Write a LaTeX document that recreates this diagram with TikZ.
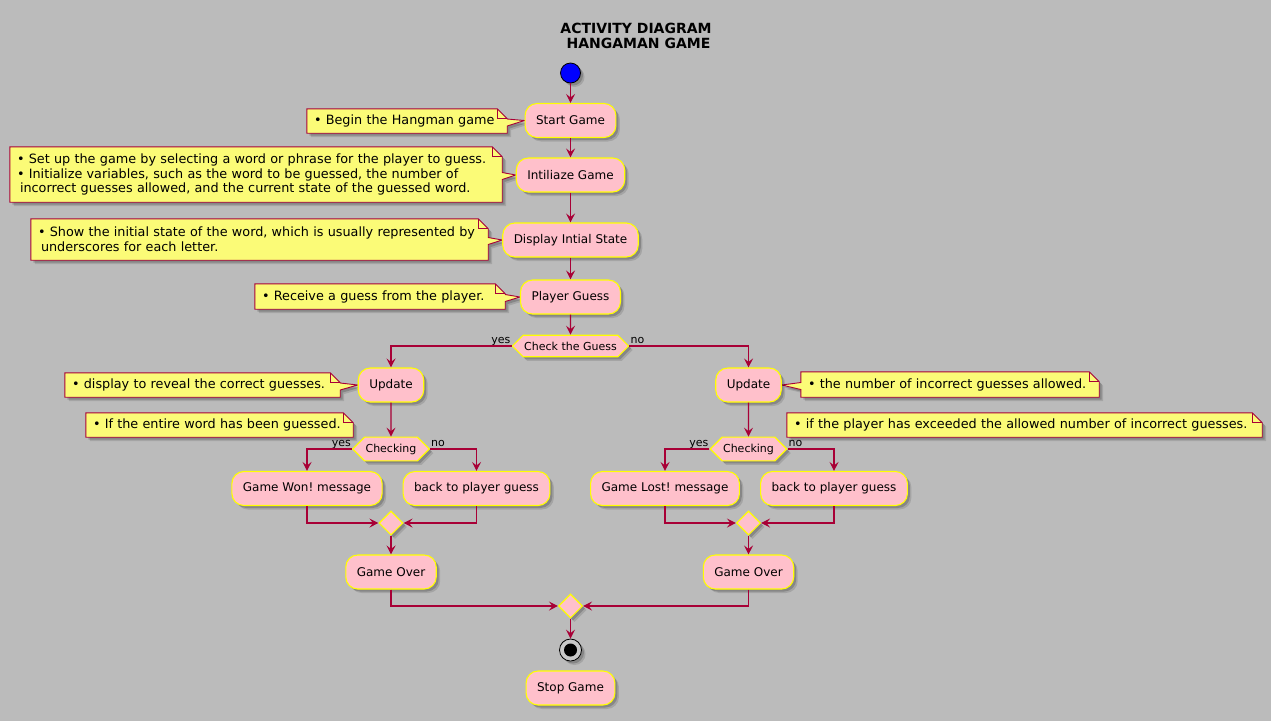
\documentclass[tikz,border=0pt]{standalone}
\usepackage{fontspec}
\setmainfont{DejaVu Sans}
\usetikzlibrary{arrows.meta,shapes.geometric,shapes.symbols,shadows,calc}
\pgfdeclarelayer{canvas}
\pgfdeclarelayer{notes}
\pgfsetlayers{canvas,notes,main}
\frenchspacing

\definecolor{bgc}{RGB}{187,187,187}
\definecolor{actfill}{RGB}{255,192,203}
\definecolor{actline}{RGB}{255,255,0}
\definecolor{arrowc}{RGB}{168,0,54}
\definecolor{notefill}{RGB}{251,251,119}
\definecolor{noteline}{RGB}{168,0,54}

\tikzset{
  softshadow/.style={
    drop shadow={shadow xshift=4pt, shadow yshift=-4pt, fill=black, opacity=0.12},
    drop shadow={shadow xshift=2.5pt, shadow yshift=-2.5pt, fill=black, opacity=0.18}},
  act/.style={rectangle, rounded corners=12pt, draw=actline, fill=actfill, line width=1.1pt,
    minimum height=34pt, inner xsep=11pt, font=\fontsize{12}{14}\selectfont, softshadow},
  choice/.style={signal, signal to=west and east, signal pointer angle=90, draw=actline,
    fill=actfill, line width=1.1pt, inner xsep=1pt, inner ysep=6.5pt,
    font=\fontsize{11}{13}\selectfont, softshadow},
  merge/.style={diamond, aspect=1, draw=actline, fill=actfill, line width=1.1pt,
    minimum width=24pt, minimum height=24pt, inner sep=0pt, softshadow},
  startdot/.style={circle, fill=blue, draw=black, line width=0.8pt, minimum size=20pt,
    inner sep=0pt, softshadow},
  enddot/.style={circle, fill=bgc!80!white, draw=black, line width=0.8pt, minimum size=22pt,
    inner sep=0pt, softshadow,
    path picture={\fill[black] (path picture bounding box.center) circle (6.5pt);}},
  flow/.style={draw=arrowc, line width=1.2pt, -{Stealth[length=9pt,width=9pt,inset=3.5pt]}},
  note/.style={rectangle, inner xsep=7pt, inner ysep=3pt, align=left,
    font=\fontsize{12.8}{14.6}\selectfont},
  notebox/.style={fill=notefill, draw=noteline, line width=0.9pt, softshadow},
  notefold/.style={draw=noteline, line width=0.9pt},
  lbl/.style={inner sep=1pt, font=\fontsize{11}{13}\selectfont},
  heading/.style={align=center, inner sep=0pt, font=\bfseries\fontsize{14}{15.5}\selectfont},
}

% note outline with its pointer on the right edge
\newcommand\hgNoteRight[2]{%
  \begin{pgfonlayer}{notes}
    \path[notebox] (#1.north west) -- ([xshift=-10pt]#1.north east) -- ([yshift=-10pt]#1.north east)
      -- ([yshift=2pt]#1.east) -- (#2) -- ([yshift=-5pt]#1.east)
      -- (#1.south east) -- (#1.south west) -- cycle;
    \path[notefold] ([xshift=-10pt]#1.north east) -- ([xshift=-10pt,yshift=-10pt]#1.north east)
      -- ([yshift=-10pt]#1.north east);
  \end{pgfonlayer}}
% note outline with its pointer on the left edge
\newcommand\hgNoteLeft[2]{%
  \begin{pgfonlayer}{notes}
    \path[notebox] (#1.north west) -- ([xshift=-10pt]#1.north east) -- ([yshift=-10pt]#1.north east)
      -- (#1.south east) -- (#1.south west) -- ([yshift=-5pt]#1.west) -- (#2)
      -- ([yshift=2pt]#1.west) -- cycle;
    \path[notefold] ([xshift=-10pt]#1.north east) -- ([xshift=-10pt,yshift=-10pt]#1.north east)
      -- ([yshift=-10pt]#1.north east);
  \end{pgfonlayer}}
% free-standing note outline
\newcommand\hgNotePlain[1]{%
  \begin{pgfonlayer}{notes}
    \path[notebox] (#1.north west) -- ([xshift=-10pt]#1.north east) -- ([yshift=-10pt]#1.north east)
      -- (#1.south east) -- (#1.south west) -- cycle;
    \path[notefold] ([xshift=-10pt]#1.north east) -- ([xshift=-10pt,yshift=-10pt]#1.north east)
      -- ([yshift=-10pt]#1.north east);
  \end{pgfonlayer}}

\begin{document}
\begin{tikzpicture}[x=1pt,y=-1pt]
\useasboundingbox (0,0) rectangle (1271,721);
\begin{pgfonlayer}{canvas}
  \fill[bgc] (0,0) rectangle (1271,721);
\end{pgfonlayer}

\node[heading] (ttl) at (636,36) {ACTIVITY DIAGRAM\\\hspace*{5pt}HANGAMAN GAME};

% main column
\node[startdot] (start) at (570.5,73) {};
\node[act] (a1) at (570.5,120.5) {Start Game};
\node[act] (a2) at (570.5,175) {Intiliaze Game};
\node[act] (a3) at (570.5,240) {Display Intial State};
\node[act] (a4) at (570.5,297) {Player Guess};
\node[choice] (h1) at (570.5,346) {Check the Guess};

% guess correct
\node[act] (u1) at (391,385) {Update};
\node[choice] (c1) at (391,449) {Checking};
\node[act] (w1) at (307,488.5) {Game Won! message};
\node[act] (b1) at (476.5,488.5) {back to player guess};
\node[merge] (m1) at (391,523) {};
\node[act] (o1) at (391,572) {Game Over};

% guess wrong
\node[act] (u2) at (748.5,385) {Update};
\node[choice] (c2) at (748.5,449) {Checking};
\node[act] (l2) at (665,488.5) {Game Lost! message};
\node[act] (b2) at (834,488.5) {back to player guess};
\node[merge] (m2) at (748.5,523) {};
\node[act] (o2) at (748.5,572) {Game Over};

% end
\node[merge] (m3) at (570.5,606) {};
\node[enddot] (stop) at (570.5,650) {};
\node[act] (a5) at (570.5,688) {Stop Game};

% branch labels
\node[lbl, anchor=base east] (y1) at ([yshift=3pt]h1.west) {yes};
\node[lbl, anchor=base west] (n1l) at ([yshift=3pt]h1.east) {no};
\node[lbl, anchor=base east] (y2) at ([yshift=3pt]c1.west) {yes};
\node[lbl, anchor=base west] (n2l) at ([yshift=3pt]c1.east) {no};
\node[lbl, anchor=base east] (y3) at ([yshift=3pt]c2.west) {yes};
\node[lbl, anchor=base west] (n3l) at ([yshift=3pt]c2.east) {no};

% connectors
\draw[flow] (start) -- (a1);
\draw[flow] (a1) -- (a2);
\draw[flow] (a2) -- (a3);
\draw[flow] (a3) -- (a4);
\draw[flow] (a4) -- (h1);
\draw[flow] (h1.west) -| (u1.north);
\draw[flow] (h1.east) -| (u2.north);
\draw[flow] (u1) -- (c1);
\draw[flow] (c1.west) -| (w1.north);
\draw[flow] (c1.east) -| (b1.north);
\draw[flow] (w1.south) |- (m1.west);
\draw[flow] (b1.south) |- (m1.east);
\draw[flow] (m1) -- (o1);
\draw[flow] (u2) -- (c2);
\draw[flow] (c2.west) -| (l2.north);
\draw[flow] (c2.east) -| (b2.north);
\draw[flow] (l2.south) |- (m2.west);
\draw[flow] (b2.south) |- (m2.east);
\draw[flow] (m2) -- (o2);
\draw[flow] (o1.south) |- (m3.west);
\draw[flow] (o2.south) |- (m3.east);
\draw[flow] (m3) -- (stop);

% notes (text width = box width - 14pt)
\node[note, text width=186pt, minimum height=24pt] (nt1) at (407,121)
  {• Begin the Hangman game};
\node[note, text width=478pt, minimum height=55pt] (nt2) at (256,174.5)
  {• Set up the game by selecting a word or phrase for the player to guess.\\
   • Initialize variables, such as the word to be guessed, the number of\\
   \hspace*{3pt}incorrect guesses allowed, and the current state of the guessed word.};
\node[note, text width=443pt, minimum height=41pt] (nt3) at (259.5,239.5)
  {• Show the initial state of the word, which is usually represented by\\
   \hspace*{3pt}underscores for each letter.};
\node[note, text width=236pt, minimum height=25pt] (nt4) at (380,296.5)
  {• Receive a guess from the player.};
\node[note, text width=261pt, minimum height=24pt] (nt5) at (202.5,385)
  {• display to reveal the correct guesses.};
\node[note, text width=253pt, minimum height=24pt] (nt6) at (219.5,425)
  {• If the entire word has been guessed.};
\node[note, text width=284pt, minimum height=25pt] (nt7) at (950,384.5)
  {• the number of incorrect guesses allowed.};
\node[note, text width=461pt, minimum height=24pt] (nt8) at (1024.5,425)
  {• if the player has exceeded the allowed number of incorrect guesses.};

\hgNoteRight{nt1}{a1.west}
\hgNoteRight{nt2}{a2.west}
\hgNoteRight{nt3}{a3.west}
\hgNoteRight{nt4}{a4.west}
\hgNoteRight{nt5}{u1.west}
\hgNotePlain{nt6}
\hgNoteLeft{nt7}{u2.east}
\hgNotePlain{nt8}
\end{tikzpicture}
\end{document}
